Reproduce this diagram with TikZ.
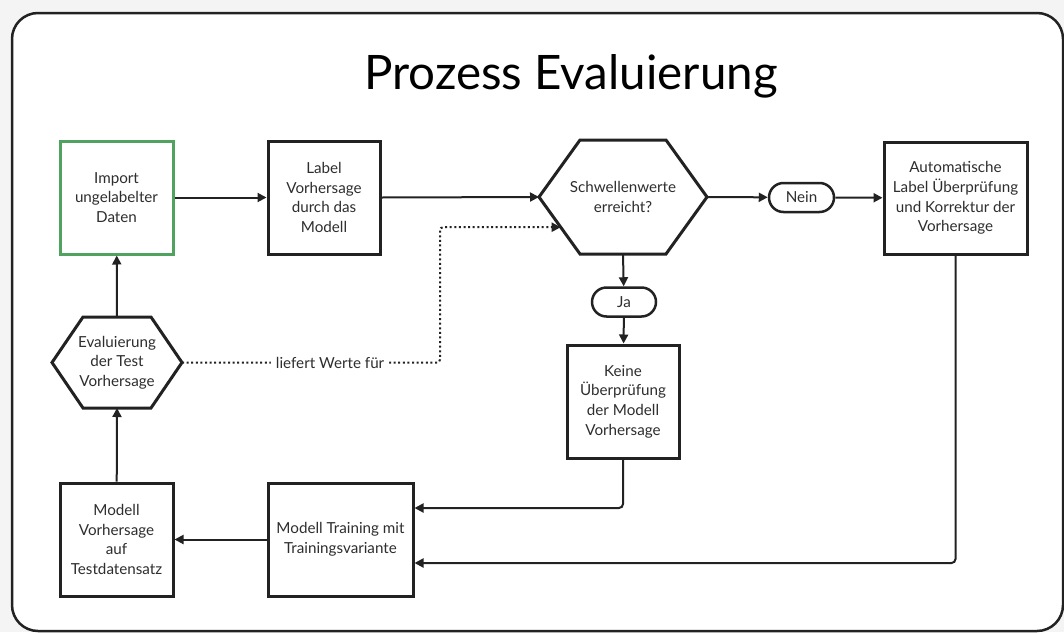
\documentclass[tikz,border=0pt]{standalone}
\usepackage{fontspec}
\setmainfont{Lato}
\usetikzlibrary{arrows.meta,calc}
\definecolor{ink}{HTML}{222222}
\definecolor{txt}{HTML}{2E2E2E}
\definecolor{grn}{HTML}{4FA35F}
\definecolor{pagebg}{HTML}{F4F4F4}

\begin{document}
\begin{tikzpicture}[x=1pt,y=-1pt,
  every node/.style={text=txt, font=\fontsize{15.2}{19.6}\selectfont, align=center},
  stepbox/.style={draw=ink, line width=3pt, fill=white, inner sep=0pt,
                  minimum width=113pt, minimum height=113pt},
  startbox/.style={stepbox, draw=grn},
  hexcore/.style={draw=none, inner sep=0pt, outer sep=0pt},
  hexline/.style={draw=ink, line width=3pt, line join=miter, fill=white},
  pill/.style={draw=ink, line width=2.5pt, fill=white, rounded corners=14.5pt,
               minimum width=65pt, minimum height=29pt, inner sep=0pt},
  link/.style={draw=ink, line width=2pt, -{Triangle[length=9pt,width=9pt]}},
  dotlink/.style={link, line width=2pt, dash pattern=on 2pt off 2.6pt},
]
% page and frame
\useasboundingbox (0,0) rectangle (1064,632);
\fill[pagebg] (0,0) rectangle (1064,632);
\draw[ink, line width=2.5pt, fill=white, rounded corners=26pt] (12,13) rectangle (1063,631);

% title
\node[anchor=base, text=black, font=\fontsize{47.5}{56}\selectfont] (title) at (571,89) {Prozess Evaluierung};

% rectangular steps
\node[startbox] (imp) at (116.5,197.5) {Import\\ungelabelter\\Daten};
\node[stepbox, minimum width=112pt] (lab) at (324,197.5) {Label\\Vorhersage\\durch das\\Modell};
\node[stepbox, minimum width=143pt, minimum height=112pt] (auto) at (955.5,198) {Automatische\\Label Überprüfung\\und Korrektur der\\Vorhersage};
\node[stepbox, minimum width=112pt] (keine) at (623,401.5) {Keine\\Überprüfung\\der Modell\\Vorhersage};
\node[stepbox, minimum width=145pt] (train) at (340.5,539.5) {Modell Training mit\\Trainingsvariante};
\node[stepbox] (mvh) at (116.5,539.5) {Modell\\Vorhersage\\auf\\Testdatensatz};

% decision hexagon
\node[hexcore, minimum width=168pt, minimum height=114pt] (thr) at (623,197) {};
\draw[hexline] (thr.west) -- ($(thr.north west)+(41,0)$) -- ($(thr.north east)+(-41,0)$)
  -- (thr.east) -- ($(thr.south east)+(-41,0)$) -- ($(thr.south west)+(41,0)$) -- cycle;
\node at (thr) {Schwellenwerte\\erreicht?};
\coordinate (thrsw) at ($(thr.south west)+(41,0)$);
\coordinate (thrin) at ($(thr.west)!0.53!(thrsw)$);

% evaluation hexagon
\node[hexcore, minimum width=130pt, minimum height=91pt] (eval) at (117,362.5) {};
\draw[hexline] (eval.west) -- ($(eval.north west)+(31,0)$) -- ($(eval.north east)+(-31,0)$)
  -- (eval.east) -- ($(eval.south east)+(-31,0)$) -- ($(eval.south west)+(31,0)$) -- cycle;
\node at (eval) {Evaluierung\\der Test\\Vorhersage};

% answers
\node[pill] (nein) at (801.5,197.5) {Nein};
\node[pill, minimum width=64pt] (ja) at (624,302) {Ja};

% connectors
\draw[link] (imp) -- (lab);
\draw[link] (lab.east) -- (thr.west);
\draw[link] (thr.east) -- (nein);
\draw[link] (nein) -- (auto);
\draw[link] (thr.south) -- (ja);
\draw[link] (ja) -- (keine);
\draw[link, rounded corners=4pt] (keine.south) |- ($(train.east)+(0,-31.5)$);
\draw[link, rounded corners=4pt] (auto.south) |- ($(train.east)+(0,23.5)$);
\draw[link] (train) -- (mvh);
\draw[link] (mvh) -- (eval.south);
\draw[link] (eval.north) -- (imp);

% feedback of evaluation values
\coordinate (bend) at (440,362.5);
\draw[dotlink, rounded corners=3pt] (eval.east) -- node[pos=0.574, fill=white, inner xsep=5pt, inner ysep=2pt] (lbl) {liefert Werte für} (bend) |- (thrin);
\end{tikzpicture}
\end{document}
